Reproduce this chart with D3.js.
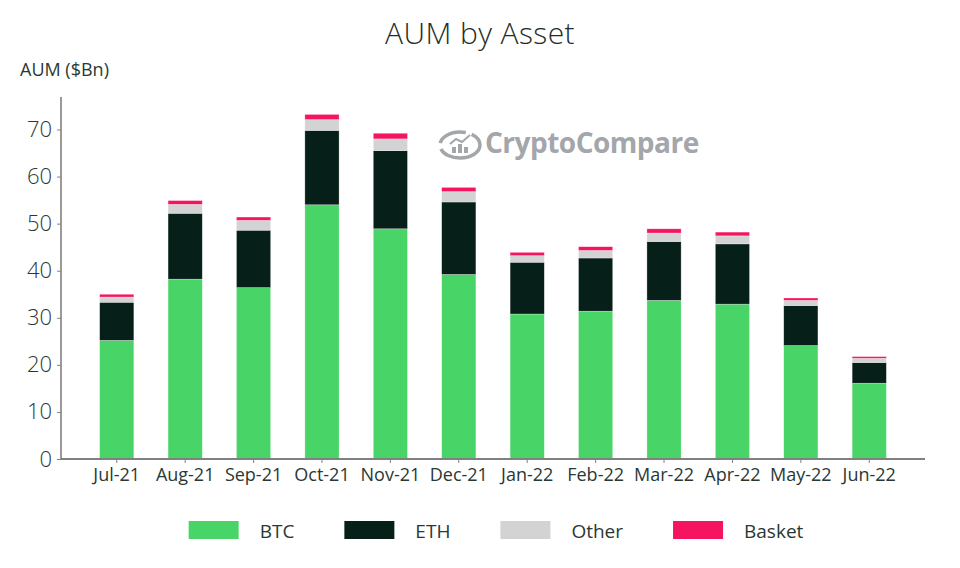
<!DOCTYPE html>
<meta charset="utf-8">
<style>
    body { margin: 0; background: #fff; }
    text { font-family: "Open Sans", sans-serif; }
</style>
<svg width="960" height="568"></svg>
<script src="https://d3js.org/d3.v7.min.js"></script>
<script>
    // data ($Bn)
    const months = ["Jul-21", "Aug-21", "Sep-21", "Oct-21", "Nov-21", "Dec-21",
                    "Jan-22", "Feb-22", "Mar-22", "Apr-22", "May-22", "Jun-22"];
    const btc    = [25.2, 38.2, 36.4, 54.0, 48.9, 39.2, 30.8, 31.4, 33.7, 32.9, 24.1, 16.1];
    const eth    = [ 8.1, 14.0, 12.2, 15.8, 16.6, 15.4, 11.0, 11.3, 12.5, 12.8,  8.5,  4.4];
    const other  = [ 1.1,  1.9,  2.1,  2.3,  2.5,  2.2,  1.4,  1.6,  1.8,  1.7,  1.1,  0.9];
    const basket = [ 0.6,  0.8,  0.7,  1.1,  1.2,  0.9,  0.7,  0.8,  0.9,  0.8,  0.5,  0.35];
    const seriesNames = ["BTC", "ETH", "Other", "Basket"];
    const seriesColors = ["#48d466", "#061f18", "#d3d3d3", "#f5145f"];
    const yTicks = [0, 10, 20, 30, 40, 50, 60, 70];

    const table = months.map((m, i) => ({
        month: m, BTC: btc[i], ETH: eth[i], Other: other[i], Basket: basket[i]
    }));

    var svg = d3.select("svg"),
        margin = {top: 97, right: 35, bottom: 109, left: 61},
        width = 960 - margin.left - margin.right,
        height = 568 - margin.top - margin.bottom,
        g = svg.append("g").attr("transform", `translate(${margin.left},${margin.top})`);

    let textColor = "#2a3833";
    let axisColor = "#808080";

    let x = d3.scaleBand()
        .domain(months)
        .range([0, width])
        .paddingInner(0.5)
        .paddingOuter(0.565);

    let y = d3.scaleLinear()
        .domain([0, 76.9])
        .range([height, 0]);

    let color = d3.scaleOrdinal()
        .domain(seriesNames)
        .range(seriesColors);

    let stacked = d3.stack().keys(seriesNames)(table);

    // watermark
    let logo = svg.append("g").attr("fill", "#a3a6aa").attr("stroke", "#a3a6aa");
    logo.append("ellipse")
        .attr("cx", 460).attr("cy", 145).attr("rx", 20).attr("ry", 13)
        .attr("fill", "none").attr("stroke-width", 3.5)
        .attr("stroke-dasharray", "48 6 30 6");
    logo.append("rect").attr("x", 452).attr("y", 147).attr("width", 4).attr("height", 6).attr("stroke", "none");
    logo.append("rect").attr("x", 458).attr("y", 144).attr("width", 4).attr("height", 9).attr("stroke", "none");
    logo.append("rect").attr("x", 464).attr("y", 147).attr("width", 4).attr("height", 6).attr("stroke", "none");
    logo.append("polyline")
        .attr("points", "450,144 456,139 462,142 470,135")
        .attr("fill", "none").attr("stroke-width", 2);
    logo.append("text")
        .attr("x", 485).attr("y", 153)
        .attr("stroke", "none")
        .attr("font-size", 28)
        .attr("font-weight", "bold")
        .attr("letter-spacing", -0.5)
        .text("CryptoCompare");

    // bars
    g.append("g")
        .selectAll("g")
        .data(stacked)
        .enter()
        .append("g")
        .attr("fill", d => color(d.key))
        .selectAll("rect")
        .data(d => d)
        .enter()
        .append("rect")
        .attr("x", d => x(d.data.month))
        .attr("y", d => y(d[1]))
        .attr("height", d => y(d[0]) - y(d[1]))
        .attr("width", x.bandwidth())
        .attr("stroke", "#ffffff")
        .attr("stroke-opacity", 0.5)
        .attr("stroke-width", 0.6);

    // axes
    let yAxis = g.append("g")
        .call(d3.axisLeft(y).tickValues(yTicks).tickSize(4).tickPadding(5).tickFormat(d3.format("d")));
    yAxis.select(".domain").attr("stroke", axisColor).attr("stroke-width", 1.6).attr("d", `M0,0V${height}`);
    yAxis.selectAll(".tick line").attr("stroke", axisColor);
    yAxis.selectAll(".tick text")
        .attr("font-size", 22)
        .attr("font-family", "Open Sans, sans-serif")
        .attr("font-weight", 300)
        .attr("fill", textColor);

    let xAxis = g.append("g")
        .attr("transform", `translate(0,${height})`)
        .call(d3.axisBottom(x).tickSize(4).tickPadding(5));
    xAxis.select(".domain").attr("stroke", axisColor).attr("stroke-width", 2).attr("d", `M0,0H${width}`);
    xAxis.selectAll(".tick line").attr("stroke", axisColor);
    xAxis.selectAll(".tick text")
        .attr("font-size", 18)
        .attr("font-family", "Open Sans, sans-serif")
        .attr("fill", textColor);

    // title and axis label
    svg.append("text")
        .attr("x", 480)
        .attr("y", 44)
        .attr("text-anchor", "middle")
        .attr("font-size", 30)
        .attr("font-weight", 300)
        .attr("letter-spacing", 0.4)
        .attr("fill", "#1f2d28")
        .text("AUM by Asset");

    svg.append("text")
        .attr("x", 20)
        .attr("y", 76)
        .attr("font-size", 18)
        .attr("fill", textColor)
        .text("AUM ($Bn)");

    // legend
    let legend = svg.append("g");
    let cursor = 0;
    seriesNames.forEach(function (name, i) {
        let item = legend.append("g").attr("transform", `translate(${cursor},0)`);
        item.append("rect")
            .attr("x", 0).attr("y", 521)
            .attr("width", 50).attr("height", 18)
            .attr("fill", seriesColors[i]);
        let label = item.append("text")
            .attr("x", 71).attr("y", 538)
            .attr("font-size", 19)
            .attr("fill", textColor)
            .text(name);
        cursor += 71 + label.node().getComputedTextLength() + 50;
    });
    let legendWidth = cursor - 50;
    legend.attr("transform", `translate(${496 - legendWidth / 2},0)`);
</script>
